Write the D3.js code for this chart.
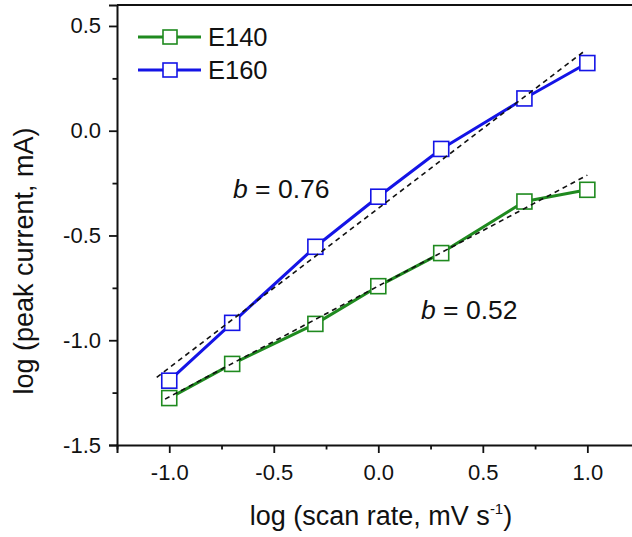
<!DOCTYPE html>
<html>
<head>
<meta charset="utf-8">
<script src="https://cdn.jsdelivr.net/npm/d3@7"></script>
<style>
  html, body { margin: 0; padding: 0; background: #fff; overflow: hidden; }
  svg { display: block; font-family: Arial, "Liberation Sans", sans-serif; }
</style>
</head>
<body>
<svg id="chart" width="632" height="537"></svg>
<script>
// ---- data ----
const scanRateLog = [-1, -0.699, -0.301, 0, 0.301, 0.699, 1];
const seriesNames = ["E140", "E160"];
const e140 = [-1.276, -1.113, -0.922, -0.742, -0.584, -0.338, -0.282];
const e160 = [-1.193, -0.917, -0.554, -0.315, -0.087, 0.154, 0.323];
const fit140X = [-1.02, 1.0];
const fit140Y = [-1.281, -0.212];
const fit160X = [-1.06, 0.99];
const fit160Y = [-1.177, 0.383];
const slopeLabels = ["0.52", "0.76"];
const xTickValues = [-1.0, -0.5, 0.0, 0.5, 1.0];
const yTickValues = [-1.5, -1.0, -0.5, 0.0, 0.5];
const xMinorValues = [-1.25, -0.75, -0.25, 0.25, 0.75, 1.25];
const yMinorValues = [-1.25, -0.75, -0.25, 0.25];

// ---- layout ----
const colors = { E140: "#1f8a1f", E160: "#1414e6" };
const svg = d3.select("#chart");
const x = d3.scaleLinear().domain([-1.25, 1.25]).range([117, 639.6]);
const y = d3.scaleLinear().domain([-1.5, 0.6]).range([445, 5]);
const fmt = d3.format(".1f");
const minus = s => s.replace("\u2212", "-");

// frame (top / right border)
svg.append("line").attr("x1", x(-1.25)).attr("x2", x(1.25))
  .attr("y1", y(0.6)).attr("y2", y(0.6))
  .attr("stroke", "#111").attr("stroke-width", 2);
svg.append("line").attr("x1", x(1.25)).attr("x2", x(1.25))
  .attr("y1", y(0.6)).attr("y2", y(-1.5))
  .attr("stroke", "#111").attr("stroke-width", 2);

// axes
const xAxis = svg.append("g").attr("transform", `translate(0,${y(-1.5)})`)
  .call(d3.axisBottom(x).tickValues(xTickValues).tickSize(8).tickPadding(11)
    .tickFormat(d => minus(fmt(d))));
const xMinor = svg.append("g").attr("transform", `translate(0,${y(-1.5)})`)
  .call(d3.axisBottom(x).tickValues(xMinorValues).tickSize(4.5).tickFormat(""));
const yAxis = svg.append("g").attr("transform", `translate(${x(-1.25)},0)`)
  .call(d3.axisLeft(y).tickValues(yTickValues).tickSize(8).tickPadding(8)
    .tickFormat(d => minus(fmt(d))));
const yMinor = svg.append("g").attr("transform", `translate(${x(-1.25)},0)`)
  .call(d3.axisLeft(y).tickValues(yMinorValues).tickSize(4.5).tickFormat(""));

[xAxis, xMinor, yAxis, yMinor].forEach(g => {
  g.select(".domain").attr("stroke", "#111").attr("stroke-width", 2);
  g.selectAll(".tick line").attr("stroke", "#111").attr("stroke-width", 1.8);
  g.selectAll(".tick text").attr("fill", "#111").style("font-size", "22px")
    .style("font-family", "Arial, 'Liberation Sans', sans-serif");
});
xMinor.select(".domain").remove();
yMinor.select(".domain").remove();

// axis titles
const xt = svg.append("text").attr("x", 381).attr("y", 525)
  .attr("text-anchor", "middle").style("font-size", "27px").attr("fill", "#111");
xt.append("tspan").text("log (scan rate, mV s");
xt.append("tspan").attr("dy", -11).style("font-size", "15px").text("-1");
xt.append("tspan").attr("dy", 11).text(")");

svg.append("text").attr("transform", "translate(33,261) rotate(-90)")
  .attr("text-anchor", "middle").style("font-size", "27px").attr("fill", "#111")
  .text("log (peak current, mA)");

// series lines
const seriesData = [e140, e160];
const line = d3.line().x(d => x(d[0])).y(d => y(d[1]));
seriesData.forEach((vals, i) => {
  const pts = scanRateLog.map((xv, j) => [xv, vals[j]]);
  svg.append("path").datum(pts).attr("d", line)
    .attr("fill", "none").attr("stroke", colors[seriesNames[i]])
    .attr("stroke-width", 3).attr("stroke-linejoin", "round");
});
seriesData.forEach((vals, i) => {
  const pts = scanRateLog.map((xv, j) => [xv, vals[j]]);
  svg.append("g").selectAll("rect").data(pts).join("rect")
    .attr("x", d => x(d[0]) - 7.5).attr("y", d => y(d[1]) - 7.5)
    .attr("width", 15).attr("height", 15)
    .attr("fill", "#fff").attr("stroke", colors[seriesNames[i]]).attr("stroke-width", 1.6);
});

// fit lines (dashed)
[[fit140X, fit140Y], [fit160X, fit160Y]].forEach(([fx, fy]) => {
  svg.append("path").datum(fx.map((v, k) => [v, fy[k]])).attr("d", line)
    .attr("fill", "none").attr("stroke", "#111").attr("stroke-width", 1.6)
    .attr("stroke-dasharray", "5,4");
});

// slope annotations
function slopeLabel(px, py, val) {
  const t = svg.append("text").attr("x", px).attr("y", py)
    .style("font-size", "26.5px").attr("fill", "#111");
  t.append("tspan").style("font-style", "italic").text("b");
  t.append("tspan").text(" = " + val);
}
slopeLabel(233, 198, slopeLabels[1]);
slopeLabel(421, 319, slopeLabels[0]);

// legend
const legend = svg.append("g");
seriesNames.forEach((name, i) => {
  const ly = 37 + i * 33;
  legend.append("line").attr("x1", 138).attr("x2", 201).attr("y1", ly).attr("y2", ly)
    .attr("stroke", colors[name]).attr("stroke-width", 3);
  legend.append("rect").attr("x", 170 - 7).attr("y", ly - 7).attr("width", 14).attr("height", 14)
    .attr("fill", "#fff").attr("stroke", colors[name]).attr("stroke-width", 1.6);
  legend.append("text").attr("x", 208).attr("y", ly + 9)
    .style("font-size", "25.5px").attr("fill", "#111").text(name);
});
</script>
</body>
</html>
